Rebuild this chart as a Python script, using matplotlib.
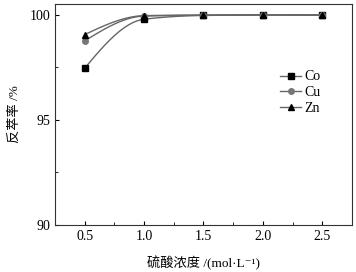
import numpy as np
import matplotlib
matplotlib.use("Agg")
import matplotlib.pyplot as plt
from matplotlib.ticker import MultipleLocator

plt.rcParams['font.family'] = ['Liberation Serif', 'Noto Sans CJK SC', 'DejaVu Serif']

conc = [0.5, 1.0, 1.5, 2.0, 2.5]
co = [97.45, 99.78, 99.96, 99.98, 99.97]
cu = [98.75, 99.93, 99.97, 99.98, 99.97]
zn = [99.05, 99.95, 99.98, 99.99, 99.99]
names = ['Co', 'Cu', 'Zn']


def pchip(x, y, xs):
    # monotone cubic for the smooth connecting line
    x = np.asarray(x, float)
    y = np.asarray(y, float)
    h = np.diff(x)
    d = np.diff(y) / h
    m = np.zeros_like(y)
    m[0] = ((2 * h[0] + h[1]) * d[0] - h[0] * d[1]) / (h[0] + h[1])
    m[-1] = ((2 * h[-1] + h[-2]) * d[-1] - h[-1] * d[-2]) / (h[-1] + h[-2])
    for i in range(1, len(x) - 1):
        if d[i - 1] * d[i] > 0:
            m[i] = 2 / (1 / d[i - 1] + 1 / d[i])
    idx = np.clip(np.searchsorted(x, xs) - 1, 0, len(x) - 2)
    t = (xs - x[idx]) / h[idx]
    h00 = 2 * t**3 - 3 * t**2 + 1
    h10 = t**3 - 2 * t**2 + t
    h01 = -2 * t**3 + 3 * t**2
    h11 = t**3 - t**2
    return h00 * y[idx] + h10 * h[idx] * m[idx] + h01 * y[idx + 1] + h11 * h[idx] * m[idx + 1]


fig = plt.figure(figsize=(3.56, 2.72), dpi=100)
ax = fig.add_axes([0.1545, 0.173, 0.834, 0.812])

xs = np.linspace(0.5, 2.5, 200)
styles = [('s', 'black'), ('o', '#777777'), ('^', 'black')]
for vals, name, (mk, mc) in zip([co, cu, zn], names, styles):
    ax.plot(xs, pchip(conc, vals, xs), color='#666666', lw=1.0)
    ax.plot(conc, vals, linestyle='none', marker=mk, color=mc, ms=4)
    ax.plot([], [], color='#666666', lw=1.0, marker=mk, mfc=mc, mec=mc, ms=4, label=name)

ax.set_xlim(0.25, 2.75)
ax.set_ylim(90, 100.5)
ax.xaxis.set_major_locator(MultipleLocator(0.5))
ax.xaxis.set_minor_locator(MultipleLocator(0.25))
ax.yaxis.set_major_locator(MultipleLocator(5))
ax.yaxis.set_minor_locator(MultipleLocator(2.5))
ax.tick_params(which='both', direction='in', labelsize=10, top=False, right=False)
ax.tick_params(which='major', length=3)
ax.tick_params(which='minor', length=2)
ax.set_xticks(conc)
ax.set_xticklabels([f'{c:.1f}' for c in conc])
for s in ax.spines.values():
    s.set_color('#333333')

ax.set_xlabel('硫酸浓度 /(mol·L⁻¹)', fontsize=9.5, labelpad=9)
ax.set_ylabel('反萃率 /%', fontsize=9.5, labelpad=6)

ax.legend(loc='upper left', bbox_to_anchor=(0.74, 0.725), frameon=False, fontsize=10,
          handlelength=1.5, labelspacing=0.2, handletextpad=0.2, borderaxespad=0)

fig.savefig('out.png', dpi=100)
